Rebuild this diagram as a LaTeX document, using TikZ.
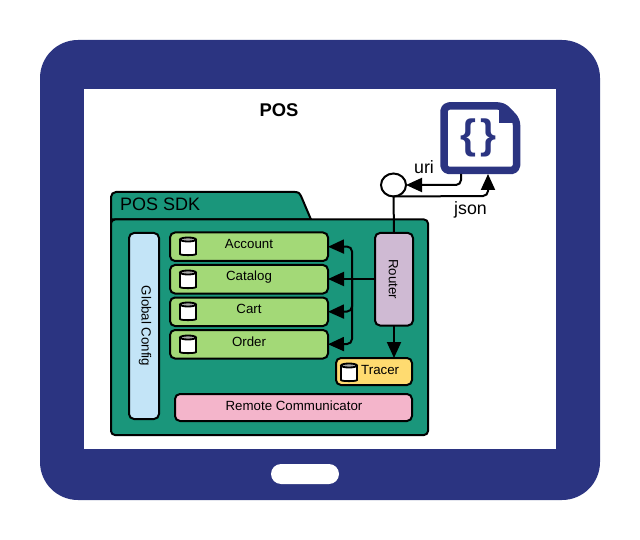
\documentclass[tikz,border=0pt]{standalone}
\usepackage{fontspec}
\setmainfont{Liberation Sans}
\usetikzlibrary{arrows.meta,shapes.geometric}
\definecolor{navy}{HTML}{2B3481}
\definecolor{teal}{HTML}{1A967B}
\definecolor{modgreen}{HTML}{A3D977}
\definecolor{cfgblue}{HTML}{C3E4F7}
\definecolor{routerpurple}{HTML}{CFBAD3}
\definecolor{traceryellow}{HTML}{FFDB70}
\definecolor{remotepink}{HTML}{F4B5CB}
\definecolor{cyltop}{HTML}{A8A8A8}
\tikzset{
  x=1pt,y=-1pt,
  box/.style={draw=black,line width=2pt,rounded corners=5pt,inner sep=0pt,outer sep=0pt,anchor=north west},
  modbox/.style={box,fill=modgreen,minimum width=158pt,minimum height=28.5pt},
  lbl/.style={font=\fontsize{13.3}{15}\selectfont,inner sep=0pt},
  conn/.style={draw=black,line width=2pt,rounded corners=5pt},
  arr/.style={conn,-{Triangle[length=16pt,width=14pt]}},
  cyl/.pic={
    \draw[black,line width=1.8pt,fill=white,rounded corners=1pt] (-8,-6.5) -- (-8,7) .. controls (-8,9.5) and (8,9.5) .. (8,7) -- (8,-6.5);
    \draw[black,line width=1.8pt,fill=cyltop] (0,-6.5) ellipse [x radius=8pt,y radius=2pt];
  }
}
\begin{document}
\begin{tikzpicture}
\useasboundingbox (0,0) rectangle (640,540);
\fill[navy,rounded corners=38pt] (40,40) rectangle (600,500);
\fill[white] (84,89) rectangle (556,449);
\fill[white,rounded corners=10pt] (271,464) rectangle (339,484);
\node[font=\bfseries\fontsize{18.4}{20}\selectfont,inner sep=0pt] (title) at (279,110) {POS};

% document icon
\path[draw=navy,line width=7.5pt,fill=white,rounded corners=5pt,line join=round]
  (444,106) -- (503,106) -- (516.5,120) -- (516.5,170.5) -- (444,170.5) -- cycle;
\fill[navy] (499,103) -- (519,123) -- (499,123) -- cycle;
\coordinate (docuri) at (461,174);
\coordinate (docjson) at (488,174);
\node[font=\bfseries\fontsize{41}{44}\selectfont,text=navy,inner sep=0pt] (braces) at (478.5,137.5) {\{\kern5pt\}};

% folder
\path[draw=black,line width=2pt,fill=teal]
  (111,225) -- (111,197) arc[start angle=180,end angle=90,radius=5pt] -- (295,192)
  .. controls (299,192) and (300,194) .. (301,196) -- (311,219.5) -- (111,219.5) -- cycle;
\path[draw=black,line width=2pt,fill=teal,rounded corners=4pt]
  (111,219.5) -- (428,219.5) -- (428,435) -- (111,435) -- cycle;
\node[anchor=west,font=\fontsize{18}{20}\selectfont,inner sep=0pt] (sdk) at (120,204) {POS SDK};

\node[box,fill=cfgblue,minimum width=30pt,minimum height=186pt] (cfg) at (129,233) {};
\node[lbl,rotate=-90] at (145,326) {Global Config};

\node[modbox] (account) at (170,232.5) {};
\node[modbox] (catalog) at (170,265) {};
\node[modbox] (cart) at (170,297.5) {};
\node[modbox] (order) at (170,330) {};
\node[lbl] at (249,244) {Account};
\node[lbl] at (249,277.5) {Catalog};
\node[lbl] at (249,309) {Cart};
\node[lbl] at (249,341.5) {Order};
\pic at (188,246) {cyl};
\pic at (188,279) {cyl};
\pic at (188,311) {cyl};
\pic at (188,344) {cyl};

\node[box,fill=routerpurple,minimum width=38pt,minimum height=92.5pt] (router) at (375,233) {};
\node[lbl,rotate=-90] at (393.5,279) {Router};
\node[box,fill=traceryellow,minimum width=76pt,minimum height=27pt] (tracer) at (336,358) {};
\node[lbl,anchor=west] at (361,369.5) {Tracer};
\pic at (349,372) {cyl};
\node[box,fill=remotepink,minimum width=237pt,minimum height=27pt] (remote) at (175,394) {};
\node[lbl] at (294,405.5) {Remote Communicator};

% hub and external connectors
\node[draw=black,line width=2pt,fill=white,ellipse,minimum width=25pt,minimum height=23pt,inner sep=0pt,outer sep=0pt] (hub) at (393.5,185) {};
\draw[conn] (hub.south) -- (router.north);
\draw[arr] (docuri) -- (461,185) -- (hub.east);
\draw[arr] (hub.south) -- (488,196) -- (docjson);
\node[font=\fontsize{17.8}{20}\selectfont,inner sep=0pt] (urilbl) at (424,167.5) {uri};
\node[font=\fontsize{17.8}{20}\selectfont,inner sep=0pt] (jsonlbl) at (470.5,210) {json};

% router to modules
\coordinate (bus) at (352,279);
\draw[arr,rounded corners=0pt] (router.west |- bus) -- (catalog.east |- bus);
\draw[arr] (bus) -- (352,246.5) -- (account.east);
\draw[arr] (bus) -- (352,311.5) -- (cart.east);
\draw[arr] (bus) -- (352,344) -- (order.east);
\draw[arr,rounded corners=0pt] (router.south) -- (tracer.north -| router.south);
\end{tikzpicture}
\end{document}
